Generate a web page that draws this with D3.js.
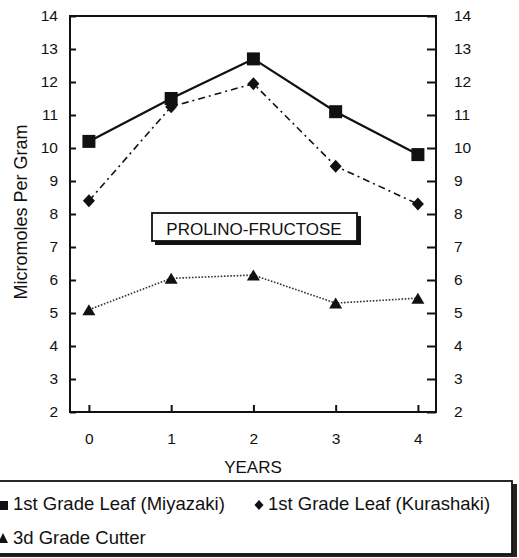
<!DOCTYPE html>
<html>
<head>
<meta charset="utf-8">
<script src="https://cdn.jsdelivr.net/npm/d3@7"></script>
<style>
  html, body { margin: 0; padding: 0; background: #fff; }
  svg { display: block; font-family: "Liberation Sans", Arial, sans-serif; }
</style>
</head>
<body>
<script>
// ---- data ----
const years = [0, 1, 2, 3, 4];
const miyazaki = [10.2, 11.5, 12.7, 11.1, 9.8];
const kurashaki = [8.4, 11.25, 11.95, 9.45, 8.3];
const cutter = [5.1, 6.05, 6.15, 5.3, 5.45];
const yTicks = [2, 3, 4, 5, 6, 7, 8, 9, 10, 11, 12, 13, 14];
const seriesNames = ["1st Grade Leaf (Miyazaki)", "1st Grade Leaf (Kurashaki)", "3d Grade Cutter"];
const chartLabel = "PROLINO-FRUCTOSE";
const xTitle = "YEARS";
const yTitle = "Micromoles Per Gram";

const W = 519, H = 558;
const m = { left: 70, right: 436, top: 16, bottom: 412 };

const svg = d3.select("body").append("svg").attr("width", W).attr("height", H);

const x = d3.scaleLinear().domain([-0.23, 4.22]).range([m.left, m.right]);
const y = d3.scaleLinear().domain([2, 14]).range([m.bottom, m.top]);

// frame
svg.append("rect")
  .attr("x", m.left).attr("y", m.top)
  .attr("width", m.right - m.left).attr("height", m.bottom - m.top)
  .attr("fill", "none").attr("stroke", "#111").attr("stroke-width", 2);

// left axis: ticks inward
const leftAxis = d3.axisLeft(y).tickValues(yTicks).tickSizeInner(-6).tickSizeOuter(0).tickPadding(12);
const gl = svg.append("g").attr("transform", `translate(${m.left},0)`).call(leftAxis);
// right axis
const rightAxis = d3.axisRight(y).tickValues(yTicks).tickSizeInner(-9).tickSizeOuter(0).tickPadding(18);
const gr = svg.append("g").attr("transform", `translate(${m.right},0)`).call(rightAxis);
// bottom axis
const bottomAxis = d3.axisBottom(x).tickValues(years).tickFormat(d3.format("d")).tickSizeInner(-7).tickSizeOuter(0).tickPadding(21);
const gb = svg.append("g").attr("transform", `translate(0,${m.bottom})`).call(bottomAxis);

[gl, gr, gb].forEach(g => {
  g.select(".domain").remove();
  g.selectAll(".tick line").attr("stroke", "#111").attr("stroke-width", 2);
  g.selectAll(".tick text").attr("fill", "#111").style("font-size", "15.5px")
    .style("font-family", "'Liberation Sans', Arial, sans-serif");
});

// axis titles
svg.append("text")
  .attr("transform", `translate(27,${(m.top + m.bottom) / 2 - 2}) rotate(-90)`)
  .attr("text-anchor", "middle").style("font-size", "18px").attr("fill", "#111")
  .text(yTitle);
svg.append("text")
  .attr("x", 253).attr("y", 473).attr("text-anchor", "middle")
  .style("font-size", "17px").attr("fill", "#111")
  .text(xTitle);

// lines
const line = d3.line().x((d, i) => x(years[i])).y(d => y(d));
svg.append("path").datum(cutter).attr("d", line)
  .attr("fill", "none").attr("stroke", "#333").attr("stroke-width", 1.6)
  .attr("stroke-dasharray", "1.6,1.6");
svg.append("path").datum(kurashaki).attr("d", line)
  .attr("fill", "none").attr("stroke", "#111").attr("stroke-width", 1.6)
  .attr("stroke-dasharray", "7,4,2,4");
svg.append("path").datum(miyazaki).attr("d", line)
  .attr("fill", "none").attr("stroke", "#111").attr("stroke-width", 2.2);

// markers
const sq = 13;
svg.selectAll(".sq").data(miyazaki).enter().append("rect")
  .attr("x", (d, i) => x(years[i]) - sq / 2).attr("y", d => y(d) - sq / 2)
  .attr("width", sq).attr("height", sq).attr("fill", "#111");
const diamond = (cx, cy, w, h) => `M${cx},${cy - h / 2}L${cx + w / 2},${cy}L${cx},${cy + h / 2}L${cx - w / 2},${cy}Z`;
svg.selectAll(".dm").data(kurashaki).enter().append("path")
  .attr("d", (d, i) => diamond(x(years[i]), y(d), 12, 13)).attr("fill", "#111");
const tri = (cx, cy, w, h) => `M${cx},${cy - h / 2}L${cx + w / 2},${cy + h / 2}L${cx - w / 2},${cy + h / 2}Z`;
svg.selectAll(".tr").data(cutter).enter().append("path")
  .attr("d", (d, i) => tri(x(years[i]), y(d), 13, 11)).attr("fill", "#111");

// label box with shadow
svg.append("rect").attr("x", 155).attr("y", 216).attr("width", 206).attr("height", 29).attr("fill", "#111");
svg.append("rect").attr("x", 152).attr("y", 213).attr("width", 205).attr("height", 28)
  .attr("fill", "#fff").attr("stroke", "#111").attr("stroke-width", 1.8);
svg.append("text").attr("x", 254).attr("y", 234.5).attr("text-anchor", "middle")
  .style("font-size", "17px").attr("fill", "#111").text(chartLabel);

// legend box with shadow
svg.append("rect").attr("x", -10).attr("y", 484).attr("width", 527).attr("height", 73).attr("fill", "#222");
svg.append("rect").attr("x", -10).attr("y", 481).attr("width", 522).attr("height", 73)
  .attr("fill", "#fff").attr("stroke", "#111").attr("stroke-width", 1.8);

const leg = svg.append("g").style("font-size", "18.5px").attr("fill", "#111");
leg.append("rect").attr("x", -1).attr("y", 501).attr("width", 9).attr("height", 9).attr("fill", "#111");
leg.append("text").attr("x", 13).attr("y", 510).text(seriesNames[0]);
leg.append("path").attr("d", diamond(259, 505, 9, 10)).attr("fill", "#111");
leg.append("text").attr("x", 268).attr("y", 510).text(seriesNames[1]);
leg.append("path").attr("d", tri(3, 538, 10, 10)).attr("fill", "#111");
leg.append("text").attr("x", 13).attr("y", 544).text(seriesNames[2]);
</script>
</body>
</html>
